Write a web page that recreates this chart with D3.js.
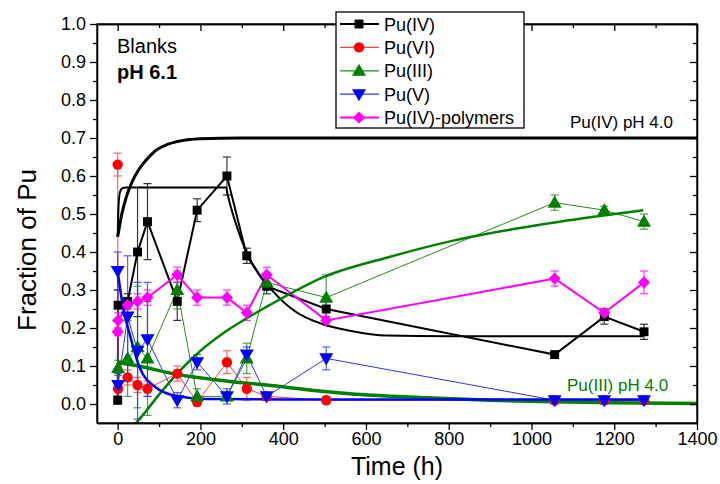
<!DOCTYPE html>
<html>
<head>
<meta charset="utf-8">
<script src="https://cdn.jsdelivr.net/npm/d3@7"></script>
<style>
  body { margin: 0; background: #fff; }
  svg { display: block; font-family: "Liberation Sans", Arial, sans-serif; }
  .axis path, .axis line { stroke: #000; stroke-width: 1.3; }
  .axis text { font-size: 17px; fill: #000; }
</style>
</head>
<body>
<script>
// sampling times (h)
const times = [0, 1, 24, 48, 72, 144, 192, 264, 312, 360, 504, 1056, 1176, 1272];

// measured fractions, pH 6.1 blanks
const puIV     = [0.01, 0.26, 0.27, 0.40, 0.48, 0.27, 0.51, 0.60, 0.39, 0.31, 0.25, 0.13, 0.23, 0.19];
const puIVErr  = [0.01, 0.04, 0.02, 0.17, 0.10, 0.05, 0.03, 0.05, 0.02, 0.02, 0.02, 0.00, 0.02, 0.02];
const puVI     = [0.63, 0.04, 0.07, 0.05, 0.04, 0.08, 0.005, 0.11, 0.04, 0.02, 0.01, 0.01, 0.01, 0.01];
const puVIErr  = [0.03, 0.02, 0.02, 0.02, 0.02, 0.02, 0.01, 0.03, 0.03, 0.01, 0.01, 0.01, 0.01, 0.01];
const puIII    = [null, 0.095, 0.12, 0.15, 0.12, 0.30, 0.02, 0.02, 0.12, 0.32, 0.28, 0.53, 0.51, 0.48];
const puIIIErr = [0, 0.02, 0.10, 0.16, 0.15, 0.05, 0.02, 0.01, 0.04, 0.02, 0.06, 0.02, 0.01, 0.02];
const puV      = [0.35, 0.05, 0.23, 0.14, 0.17, 0.01, 0.11, 0.02, 0.13, 0.02, 0.12, 0.01, 0.01, 0.01];
const puVErr   = [0.05, 0.03, 0.16, 0.18, 0.15, 0.02, 0.02, 0.02, 0.02, 0.01, 0.03, 0.01, 0.01, 0.01];
const poly     = [0.19, 0.22, 0.26, 0.27, 0.28, 0.34, 0.28, 0.28, 0.24, 0.34, 0.22, 0.33, 0.24, 0.32];
const polyErr  = [0.01, 0.02, 0.02, 0.02, 0.02, 0.02, 0.02, 0.02, 0.02, 0.02, 0.01, 0.02, 0.01, 0.03];

// model curves [t, fraction]
const fitIVpH4 = [[0, 0.44], [10, 0.50], [21, 0.545], [35, 0.585], [50, 0.615], [61, 0.632], [80, 0.655],
  [93, 0.668], [120, 0.683], [142, 0.69], [200, 0.698], [300, 0.70], [1400, 0.70]];
const fitIV = [[0, 0.44], [2, 0.52], [5, 0.555], [10, 0.567], [20, 0.57], [262, 0.57], [266, 0.55],
  [287, 0.47], [311, 0.40], [343, 0.34], [360, 0.316], [416, 0.254], [496, 0.21], [561, 0.193],
  [650, 0.18], [800, 0.178], [1270, 0.178]];
const fitIII = [[44, -0.05], [60, -0.03], [101, 0.026], [142, 0.078], [200, 0.14], [260, 0.19],
  [367, 0.26], [500, 0.335], [650, 0.385], [811, 0.43], [972, 0.463], [1133, 0.49], [1270, 0.51]];
const fitIIIpH4 = [[0, 0.11], [50, 0.10], [143, 0.078], [250, 0.062], [360, 0.05], [488, 0.034],
  [561, 0.027], [730, 0.017], [900, 0.01], [1052, 0.006], [1200, 0.003], [1400, 0.001]];
const fitV = [[0, 0.35], [13, 0.254], [29, 0.184], [53, 0.096], [93, 0.043], [143, 0.021],
  [214, 0.013], [400, 0.012], [1270, 0.012]];

const xTicks = d3.range(0, 1401, 200);
const yTicks = d3.range(0, 11).map(d => d / 10);

const W = 720, H = 484;
const x = d3.scaleLinear([-50, 1400], [97, 697]);
const y = d3.scaleLinear([-0.05, 1.0], [423, 24]);

const svg = d3.select('body').append('svg').attr('width', W).attr('height', H);

svg.append('clipPath').attr('id', 'plot')
  .append('rect').attr('x', 97).attr('y', 24).attr('width', 600).attr('height', 399);

const series = [
  { name: 'Pu(IV)', v: puIV, e: puIVErr, color: '#000', line: '#000', lw: 2, shape: 'square' },
  { name: 'Pu(VI)', v: puVI, e: puVIErr, color: '#ff0000', line: '#ff4040', lw: 1, shape: 'circle' },
  { name: 'Pu(III)', v: puIII, e: puIIIErr, color: '#008000', line: '#228b22', lw: 1, shape: 'up' },
  { name: 'Pu(V)', v: puV, e: puVErr, color: '#0000ff', line: '#3030ff', lw: 1, shape: 'down' },
  { name: 'Pu(IV)-polymers', v: poly, e: polyErr, color: '#ff00ff', line: '#ff00ff', lw: 2, shape: 'diamond' }
];

function marker(g, shape, color) {
  if (shape === 'square') g.append('path').attr('d', d3.symbol(d3.symbolSquare, 80)());
  if (shape === 'circle') g.append('path').attr('d', d3.symbol(d3.symbolCircle, 85)());
  if (shape === 'up') g.append('path').attr('d', d3.symbol(d3.symbolTriangle, 85)()).attr('transform', 'translate(0,1)');
  if (shape === 'down') g.append('path').attr('d', d3.symbol(d3.symbolTriangle, 85)()).attr('transform', 'translate(0,-1) rotate(180)');
  if (shape === 'diamond') g.append('path').attr('d', d3.symbol(d3.symbolSquare, 75)()).attr('transform', 'rotate(45)');
  g.selectAll('path').attr('fill', color);
}

const plot = svg.append('g').attr('clip-path', 'url(#plot)');
const dataLayer = plot.append('g');
const fitLayer = plot.append('g');
const markLayer = plot.append('g');

// data lines and error bars
series.forEach(s => {
  const pts = times.map((t, i) => ({ t, v: s.v[i], e: s.e[i] })).filter(d => d.v !== null);
  dataLayer.append('path')
    .datum(pts)
    .attr('d', d3.line().x(d => x(d.t)).y(d => y(d.v)))
    .attr('fill', 'none').attr('stroke', s.line).attr('stroke-width', s.lw);
  const eb = dataLayer.append('g').attr('stroke', s.line).attr('stroke-width', 1.2).attr('opacity', 0.8);
  pts.filter(d => d.e > 0).forEach(d => {
    eb.append('line').attr('x1', x(d.t)).attr('x2', x(d.t)).attr('y1', y(d.v - d.e)).attr('y2', y(d.v + d.e));
    eb.append('line').attr('x1', x(d.t) - 4).attr('x2', x(d.t) + 4).attr('y1', y(d.v - d.e)).attr('y2', y(d.v - d.e));
    eb.append('line').attr('x1', x(d.t) - 4).attr('x2', x(d.t) + 4).attr('y1', y(d.v + d.e)).attr('y2', y(d.v + d.e));
  });
  pts.forEach(d => {
    marker(markLayer.append('g').attr('transform', `translate(${x(d.t)},${y(d.v)})`), s.shape, s.color);
  });
});

// model curves
const fitLine = d3.line().x(d => x(d[0])).y(d => y(d[1])).curve(d3.curveMonotoneX);
[
  { d: fitIVpH4, c: '#000', w: 3 },
  { d: fitIV, c: '#000', w: 2 },
  { d: fitIII, c: '#008000', w: 2.5 },
  { d: fitIIIpH4, c: '#008000', w: 3.5 },
  { d: fitV, c: '#0000ff', w: 2.5 }
].forEach(f => {
  fitLayer.append('path').attr('d', fitLine(f.d))
    .attr('fill', 'none').attr('stroke', f.c).attr('stroke-width', f.w);
});

// axes
const minorX = d3.range(0, 1401, 100).filter(d => d % 200 !== 0);
const minorY = d3.range(0.05, 1, 0.1);

svg.append('g').attr('class', 'axis').attr('transform', 'translate(0,423)')
  .call(d3.axisBottom(x).tickValues(xTicks).tickSize(7).tickPadding(2).tickFormat(d3.format('d')).tickSizeOuter(0))
  .call(g => g.selectAll('text').style('font-size', '18px'));
svg.append('g').attr('class', 'axis').attr('transform', 'translate(0,423)')
  .call(d3.axisBottom(x).tickValues(minorX).tickSize(4).tickFormat('').tickSizeOuter(0));
svg.append('g').attr('class', 'axis').attr('transform', 'translate(0,24)')
  .call(d3.axisBottom(x).tickValues(xTicks).tickSize(7).tickFormat('').tickSizeOuter(0));
svg.append('g').attr('class', 'axis').attr('transform', 'translate(0,24)')
  .call(d3.axisBottom(x).tickValues(minorX).tickSize(4).tickFormat('').tickSizeOuter(0));

svg.append('g').attr('class', 'axis').attr('transform', 'translate(97,0)')
  .call(d3.axisLeft(y).tickValues(yTicks).tickSize(7).tickPadding(4).tickFormat(d3.format('.1f')).tickSizeOuter(0))
  .call(g => g.selectAll('text').style('font-size', '18px'));
svg.append('g').attr('class', 'axis').attr('transform', 'translate(97,0)')
  .call(d3.axisLeft(y).tickValues(minorY).tickSize(4).tickFormat('').tickSizeOuter(0));
svg.append('g').attr('class', 'axis').attr('transform', 'translate(697,0)')
  .call(d3.axisLeft(y).tickValues(yTicks).tickSize(7).tickFormat('').tickSizeOuter(0));
svg.append('g').attr('class', 'axis').attr('transform', 'translate(697,0)')
  .call(d3.axisLeft(y).tickValues(minorY).tickSize(4).tickFormat('').tickSizeOuter(0));

svg.append('rect').attr('x', 97).attr('y', 24).attr('width', 600).attr('height', 399)
  .attr('fill', 'none').attr('stroke', '#000').attr('stroke-width', 1.3);

// titles
svg.append('text').attr('x', 397).attr('y', 475).attr('text-anchor', 'middle')
  .style('font-size', '25px').text('Time (h)');
svg.append('text').attr('transform', 'translate(36,250) rotate(-90)').attr('text-anchor', 'middle')
  .style('font-size', '26px').text('Fraction of Pu');

// annotations
svg.append('text').attr('x', 117).attr('y', 53).style('font-size', '20px').text('Blanks');
svg.append('text').attr('x', 117).attr('y', 79).style('font-size', '20px').style('font-weight', 'bold').text('pH 6.1');
svg.append('text').attr('x', 570).attr('y', 128).style('font-size', '17px').text('Pu(IV) pH 4.0');
svg.append('text').attr('x', 567).attr('y', 391).style('font-size', '17px').attr('fill', '#008000').text('Pu(III) pH 4.0');

// legend
const leg = svg.append('g').attr('transform', 'translate(336,12)');
leg.append('rect').attr('width', 188).attr('height', 116).attr('fill', '#fff').attr('stroke', '#000').attr('stroke-width', 1.3);
series.forEach((s, i) => {
  const row = leg.append('g').attr('transform', `translate(0,${12 + i * 23.4})`);
  row.append('line').attr('x1', 4).attr('x2', 43).attr('stroke', s.line).attr('stroke-width', s.lw === 2 ? 2 : 1.3);
  marker(row.append('g').attr('transform', 'translate(23,0)'), s.shape, s.color);
  row.append('text').attr('x', 48).attr('y', 6.5).style('font-size', '18px').text(s.name);
});
</script>
</body>
</html>
